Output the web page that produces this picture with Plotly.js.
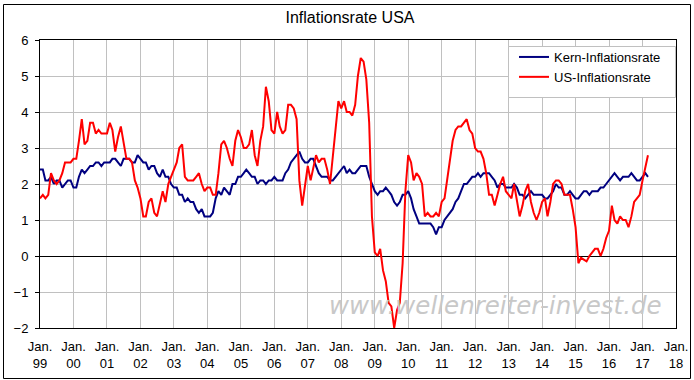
<!DOCTYPE html>
<html>
<head>
<meta charset="utf-8">
<script src="https://cdn.plot.ly/plotly-3.0.1.min.js"></script>
<style>html,body{margin:0;padding:0;background:#fff;}#chart{width:694px;height:380px;}</style>
</head>
<body>
<div id="chart"></div>
<script>
// Monthly values, first point plotted at Jan 1999, one point per month
var startYear = 1999;
var startMonth = 1;

// US-Inflationsrate (headline CPI, y/y %)
var usInflation = [
  1.6, 1.7, 1.6, 1.7, 2.3, 2.1, 2.0, 2.1, 2.3, 2.6, 2.6, 2.6,
  2.7, 2.7, 3.2, 3.8, 3.1, 3.2, 3.7, 3.7, 3.4, 3.5, 3.4, 3.4,
  3.4, 3.7, 3.5, 2.9, 3.3, 3.6, 3.2, 2.7, 2.7, 2.6, 2.1, 1.9,
  1.6, 1.1, 1.1, 1.5, 1.6, 1.2, 1.1, 1.5, 1.8, 1.5, 2.0, 2.2,
  2.4, 2.6, 3.0, 3.1, 2.2, 2.1, 2.1, 2.1, 2.2, 2.3, 2.0, 1.8,
  1.9, 1.9, 1.7, 1.7, 2.3, 3.1, 3.2, 3.0, 2.7, 2.5, 3.2, 3.5,
  3.3, 3.0, 3.0, 3.1, 3.5, 2.8, 2.5, 3.2, 3.6, 4.7, 4.3, 3.5,
  3.4, 4.0, 3.6, 3.4, 3.5, 4.2, 4.2, 4.1, 3.8, 2.1, 1.4, 2.0,
  2.5, 2.1, 2.4, 2.8, 2.6, 2.7, 2.7, 2.4, 2.0, 2.8, 3.5, 4.3,
  4.1, 4.3, 4.0, 4.0, 3.9, 4.2, 5.0, 5.5, 5.4, 4.9, 3.7, 1.1,
  0.1, 0.0, 0.2, -0.4, -0.7, -1.3, -1.4, -2.0, -1.5, -1.3, -0.2, 1.8,
  2.8, 2.6, 2.1, 2.3, 2.2, 2.0, 1.1, 1.2, 1.1, 1.1, 1.2, 1.1,
  1.5, 1.6, 2.1, 2.7, 3.2, 3.5, 3.6, 3.6, 3.7, 3.8, 3.5, 3.4,
  3.0, 2.9, 2.9, 2.7, 2.3, 1.7, 1.7, 1.4, 1.7, 2.0, 2.2, 1.8,
  1.7, 1.6, 2.0, 1.5, 1.1, 1.4, 1.8, 2.0, 1.5, 1.2, 1.0, 1.2,
  1.5, 1.6, 1.1, 1.5, 2.0, 2.1, 2.1, 2.0, 1.7, 1.7, 1.7, 1.3,
  0.8, -0.2, -0.05, -0.1, -0.15, 0.0, 0.1, 0.2, 0.2, 0.0, 0.2, 0.5,
  0.7, 1.4, 1.0, 0.9, 1.1, 1.0, 1.0, 0.8, 1.1, 1.5, 1.6, 1.7,
  2.1, 2.5, 2.8
];

// Kern-Inflationsrate (core CPI, y/y %)
var coreInflation = [
  2.4, 2.4, 2.1, 2.1, 2.2, 2.0, 2.1, 2.1, 1.9, 2.0, 2.1, 2.1,
  1.9, 1.9, 2.2, 2.4, 2.3, 2.4, 2.5, 2.5, 2.6, 2.6, 2.5, 2.6,
  2.6, 2.6, 2.7, 2.7, 2.6, 2.5, 2.7, 2.7, 2.7, 2.6, 2.6, 2.8,
  2.7, 2.6, 2.6, 2.4, 2.5, 2.5, 2.3, 2.2, 2.4, 2.2, 2.2, 2.0,
  1.9, 1.9, 1.7, 1.7, 1.5, 1.6, 1.5, 1.5, 1.3, 1.2, 1.3, 1.1,
  1.1, 1.1, 1.2, 1.6, 1.8, 1.7, 1.9, 1.8, 1.7, 2.0, 2.0, 2.2,
  2.2, 2.3, 2.4, 2.3, 2.2, 2.2, 2.0, 2.1, 2.1, 2.0, 2.1, 2.1,
  2.2, 2.1, 2.1, 2.1, 2.3, 2.4, 2.6, 2.7, 2.8, 2.9, 2.7, 2.6,
  2.6, 2.7, 2.7, 2.5, 2.3, 2.2, 2.2, 2.2, 2.1, 2.1, 2.2, 2.3,
  2.4, 2.5, 2.3, 2.4, 2.3, 2.3, 2.4, 2.5, 2.5, 2.5, 2.2, 2.0,
  1.8, 1.7, 1.8, 1.8, 1.9, 1.8, 1.7, 1.5, 1.4, 1.5, 1.7, 1.7,
  1.8, 1.6, 1.3, 1.1, 0.9, 0.9, 0.9, 0.9, 0.9, 0.8, 0.6, 0.8,
  0.8, 1.0, 1.1, 1.2, 1.3, 1.5, 1.6, 1.8, 2.0, 2.0, 2.1, 2.2,
  2.2, 2.3, 2.2, 2.3, 2.3, 2.3, 2.2, 2.1, 1.9, 2.0, 2.0, 1.9,
  1.9, 1.9, 2.0, 1.9, 1.7, 1.7, 1.6, 1.7, 1.8, 1.7, 1.7, 1.7,
  1.7, 1.6, 1.6, 1.7, 1.8, 2.0, 1.9, 1.9, 1.7, 1.7, 1.8, 1.7,
  1.6, 1.6, 1.7, 1.8, 1.8, 1.7, 1.8, 1.8, 1.8, 1.9, 1.9, 2.0,
  2.1, 2.2, 2.3, 2.2, 2.1, 2.2, 2.2, 2.2, 2.3, 2.2, 2.1, 2.1,
  2.2, 2.3, 2.2
];

var tickYears = ['99','00','01','02','03','04','05','06','07','08','09','10','11','12','13','14','15','16','17','18'];
var seriesNames = ['Kern-Inflationsrate', 'US-Inflationsrate'];
var seriesColors = ['#000080', '#ff0000'];

function monthDates(n) {
  var out = [];
  for (var i = 0; i < n; i++) {
    var m = startMonth - 1 + i;
    var y = startYear + Math.floor(m / 12);
    var mm = (m % 12) + 1;
    out.push(y + '-' + (mm < 10 ? '0' + mm : mm) + '-01');
  }
  return out;
}

var tickVals = tickYears.map(function (t, i) { return (startYear + i) + '-01-01'; });
var tickText = tickYears.map(function (t) { return 'Jan.<br>' + t; });

var FONT = 'Liberation Sans, Arial, sans-serif';

var traces = [
  {
    x: monthDates(coreInflation.length), y: coreInflation, type: 'scatter', mode: 'lines',
    name: seriesNames[0], legendgroup: 'a',
    line: {color: seriesColors[0], width: 2}, hoverinfo: 'skip'
  },
  {
    x: monthDates(usInflation.length), y: usInflation, type: 'scatter', mode: 'lines',
    name: seriesNames[1], legendgroup: 'b',
    line: {color: seriesColors[1], width: 2}, hoverinfo: 'skip'
  }
];

// plot area pixel box: x 40..676, y 40..328
function px(x) { return (x - 40) / 636; }
function py(y) { return (328 - y) / 288; }

var layout = {
  width: 694, height: 380,
  margin: {l: 40, r: 18, t: 40, b: 52, pad: 0},
  paper_bgcolor: '#ffffff', plot_bgcolor: '#ffffff',
  font: {family: FONT, size: 13, color: '#000000'},
  title: {
    text: 'Inflationsrate USA',
    font: {family: FONT, size: 16, color: '#000000'},
    x: 350 / 694, xref: 'container', xanchor: 'center',
    y: 1 - 17 / 380, yref: 'container', yanchor: 'middle'
  },
  showlegend: true,
  legend: {
    x: px(514), y: py(42), xanchor: 'left', yanchor: 'top',
    bgcolor: 'rgba(0,0,0,0)', borderwidth: 0,
    font: {family: FONT, size: 13, color: '#000000'},
    tracegroupgap: 15, traceorder: 'normal'
  },
  xaxis: {
    type: 'date',
    range: ['1999-01-01', '2018-01-01'],
    tickmode: 'array', tickvals: tickVals, ticktext: tickText,
    showgrid: true, gridcolor: '#c0c0c0', gridwidth: 1,
    showline: true, linecolor: '#000000', linewidth: 1, mirror: true,
    ticks: '', ticklabelstandoff: 6,
    tickfont: {family: FONT, size: 13, color: '#000000'},
    zeroline: false, fixedrange: true
  },
  yaxis: {
    range: [-2, 6], dtick: 1, tick0: 0,
    showgrid: true, gridcolor: '#c0c0c0', gridwidth: 1,
    showline: true, linecolor: '#000000', linewidth: 1, mirror: true,
    ticks: 'outside', ticklen: 4, tickcolor: '#000000', tickwidth: 1,
    ticklabelstandoff: 4,
    tickfont: {family: FONT, size: 13, color: '#000000'},
    zeroline: true, zerolinecolor: '#000000', zerolinewidth: 1, fixedrange: true
  },
  shapes: [
    {type: 'rect', xref: 'paper', yref: 'paper', layer: 'above',
     x0: px(508.5), x1: px(675.5), y0: py(97.5), y1: py(46.5),
     fillcolor: '#ffffff', line: {color: '#c0c0c0', width: 1}},
    {type: 'rect', xref: 'paper', yref: 'paper', layer: 'above',
     x0: px(3.5), x1: px(690.5), y0: py(378.5), y1: py(4.5),
     fillcolor: 'rgba(0,0,0,0)', line: {color: '#000000', width: 1}}
  ],
  annotations: [
    {text: 'www.wellenreiter-invest.de', xref: 'paper', yref: 'paper',
     x: px(495), y: py(305), xanchor: 'center', yanchor: 'middle', showarrow: false,
     font: {family: 'DejaVu Sans, Verdana, sans-serif', size: 24.5, color: '#c8c8c8', style: 'italic'}}
  ]
};

Plotly.newPlot('chart', traces, layout, {displayModeBar: false, staticPlot: true});
</script>
</body>
</html>
